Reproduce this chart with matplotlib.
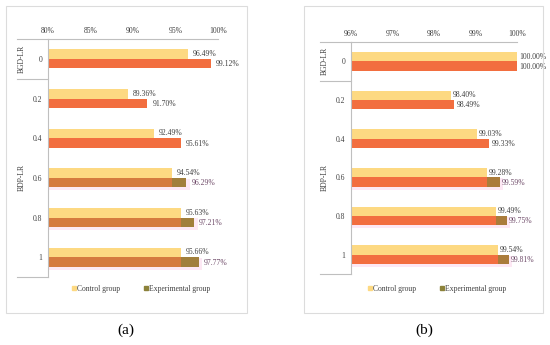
import numpy as np
import matplotlib.pyplot as plt
from matplotlib.patches import Rectangle
from matplotlib.lines import Line2D

plt.rcParams['font.family'] = ['Liberation Serif', 'DejaVu Serif']

categories = ['0', '0.2', '0.4', '0.6', '0.8', '1']
groups = ['BGD-LR', 'BDP-LR']
control_a = [96.49, 89.36, 92.49, 94.54, 95.63, 95.66]
exper_a = [99.12, 91.70, 95.61, 96.29, 97.21, 97.77]
control_b = [100.00, 98.40, 99.03, 99.28, 99.49, 99.54]
exper_b = [100.00, 98.49, 99.33, 99.59, 99.75, 99.81]
ticks_a = [80, 85, 90, 95, 100]
ticks_b = [96, 97, 98, 99, 100]

yellow = '#FDD982'
orange = '#F26E3F'
dark_orange = '#D57A3E'
olive = '#8C823A'
pink = '#FDE8F4'
grey = '#BFBFBF'
txt = '#404040'
txt_pink = '#6E4A68'
fs = 5.5

fig = plt.figure(figsize=(5.5, 3.45), dpi=100)
W, H = 550, 345

# panel frames
for x0, x1 in [(6, 247), (304, 543)]:
    fig.patches.append(Rectangle((x0 / W, 1 - 313 / H), (x1 - x0) / W, 307 / H,
                                 transform=fig.transFigure, fill=False,
                                 ec='#DCDCDC', lw=0.8))


def panel(rect, ctrl, expr, ticks, sep_x, grp_x, lab_off, leg_xy, letter, letter_x,
          dark_low):
    ax = fig.add_axes(rect)
    y = np.arange(len(categories))
    h = 0.24
    ctrl = np.array(ctrl)
    expr = np.array(expr)
    low = y >= 3
    # faint pink halo behind lower experimental bars (as in the scan)
    ax.barh(y[low] + h / 2 + 0.05, expr[low] + (ticks[-1] - ticks[0]) * 0.02, h + 0.05,
            color=pink, zorder=1)
    ax.barh(y - h / 2, ctrl, h, color=yellow, zorder=2)
    ecol = [dark_orange if (l and dark_low) else orange for l in low]
    ax.barh(y + h / 2, expr, h, color=ecol, zorder=2)
    # olive tint at the end of the lower experimental bars
    seg = expr[low] - ctrl[low]
    ax.barh(y[low] + h / 2, seg, h, left=ctrl[low], color=olive, alpha=0.7, zorder=3)

    for yi, c, e, l in zip(y, ctrl, expr, low):
        ax.annotate('%.2f%%' % c, (c, yi - h / 2), xytext=(lab_off, 0),
                    textcoords='offset points', va='center', ha='left',
                    fontsize=fs, color=txt, zorder=5, annotation_clip=False)
        ax.annotate('%.2f%%' % e, (e, yi + h / 2), xytext=(lab_off, -0.5),
                    textcoords='offset points', va='center', ha='left',
                    fontsize=fs, color=txt_pink if l else txt, zorder=5,
                    annotation_clip=False)

    ax.set_xlim(ticks[0], ticks[-1])
    ax.set_ylim(len(categories) - 0.5, -0.5)
    ax.set_xticks(ticks)
    ax.set_xticklabels(['%d%%' % t for t in ticks])
    ax.set_yticks(y)
    ax.set_yticklabels(categories)
    ax.xaxis.tick_top()
    ax.tick_params(length=0, labelsize=fs, colors=txt)
    ax.tick_params(axis='x', pad=3)
    ax.tick_params(axis='y', pad=4)
    for s in ['right', 'bottom']:
        ax.spines[s].set_visible(False)
    for s in ['left', 'top']:
        ax.spines[s].set_color(grey)
        ax.spines[s].set_linewidth(0.8)

    tr = ax.get_yaxis_transform()
    for yy in [-0.5, 0.5, len(categories) - 0.5]:
        ax.add_line(Line2D([sep_x, 0], [yy, yy], transform=tr, color=grey, lw=0.8,
                           clip_on=False))
    ax.text(grp_x, 0, groups[0], transform=tr, rotation=90, ha='center',
            va='center', fontsize=fs, color=txt)
    ax.text(grp_x, (1 + len(categories) - 1) / 2, groups[1], transform=tr,
            rotation=90, ha='center', va='center', fontsize=fs, color=txt)

    handles = [Line2D([], [], marker='s', ls='', color=yellow, markersize=2.3),
               Line2D([], [], marker='s', ls='', color=olive, markersize=2.3)]
    ax.legend(handles, ['Control group', 'Experimental group'], ncol=2,
              frameon=False, loc='center', bbox_to_anchor=leg_xy, fontsize=fs,
              handlelength=0.6, handletextpad=0.2, columnspacing=3.0,
              labelcolor=txt)
    fig.text(letter_x / W, 1 - 330 / H, letter, ha='center', va='center',
             fontsize=11, color='black')
    return ax


panel([48 / W, 1 - 277 / H, 170 / W, 238 / H], control_a, exper_a, ticks_a,
      -0.182, -0.153, 3.5, (0.547, -0.05), '(a)', 126, True)
panel([351 / W, 1 - 274 / H, 166 / W, 232 / H], control_b, exper_b, ticks_b,
      -0.187, -0.157, 1.5, (0.518, -0.065), '(b)', 424, False)

fig.savefig('out.png', dpi=100)
